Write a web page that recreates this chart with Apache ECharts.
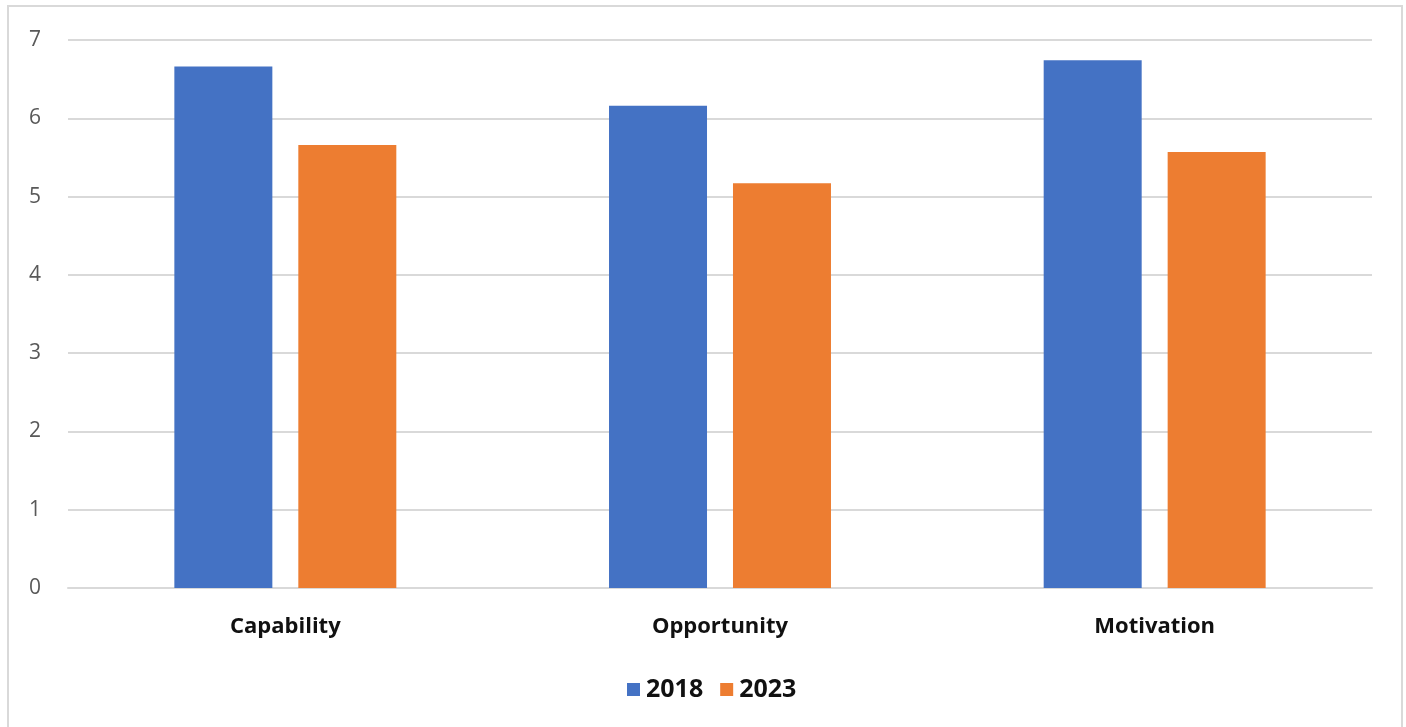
<!DOCTYPE html>
<html>
<head>
<meta charset="utf-8">
<script src="https://cdn.jsdelivr.net/npm/echarts@6/dist/echarts.min.js"></script>
<style>
html,body{margin:0;padding:0;background:#fff;}
#frame{position:absolute;left:7px;top:5px;width:1396px;height:740px;border:2px solid #d9d9d9;box-sizing:border-box;}
#chart{position:absolute;left:0;top:0;width:1406px;height:727px;}
</style>
</head>
<body>
<div id="frame"></div>
<div id="chart"></div>
<script>
const categories = ['Capability', 'Opportunity', 'Motivation'];
const seriesNames = ['2018', '2023'];
const values2018 = [6.66, 6.16, 6.74];
const values2023 = [5.66, 5.17, 5.57];
const yTicks = [0, 1, 2, 3, 4, 5, 6, 7];

const chart = echarts.init(document.getElementById('chart'), null, {renderer: 'canvas'});
const font = '"Open Sans", Lato, "Liberation Sans", sans-serif';
chart.setOption({
  animation: false,
  textStyle: {fontFamily: font},
  grid: {left: 68, right: 34, top: 40, bottom: 139, containLabel: false},
  legend: {
    data: seriesNames,
    top: 672,
    left: 622,
    itemWidth: 13,
    itemHeight: 13,
    itemGap: 17,
    icon: 'rect',
    textStyle: {fontFamily: font, fontSize: 25, fontWeight: 'bold', color: '#111', padding: [0, 0, 0, 1]}
  },
  xAxis: {
    type: 'category',
    data: categories,
    axisLine: {show: true, lineStyle: {color: '#d9d9d9', width: 2}},
    axisTick: {show: false},
    axisLabel: {fontFamily: font, fontSize: 22, fontWeight: 'bold', color: '#111', margin: 28}
  },
  yAxis: {
    type: 'value',
    min: yTicks[0],
    max: yTicks[yTicks.length - 1],
    interval: 1,
    axisLine: {show: false},
    axisTick: {show: false},
    splitLine: {lineStyle: {color: '#d9d9d9', width: 2}},
    axisLabel: {fontFamily: font, fontSize: 21, color: '#595959', margin: 27}
  },
  series: [
    {name: seriesNames[0], type: 'bar', data: values2018, barWidth: 98, barGap: '26.5%',
     itemStyle: {color: '#4472c4'}},
    {name: seriesNames[1], type: 'bar', data: values2023, barWidth: 98,
     itemStyle: {color: '#ed7d31'}}
  ]
});
</script>
</body>
</html>
